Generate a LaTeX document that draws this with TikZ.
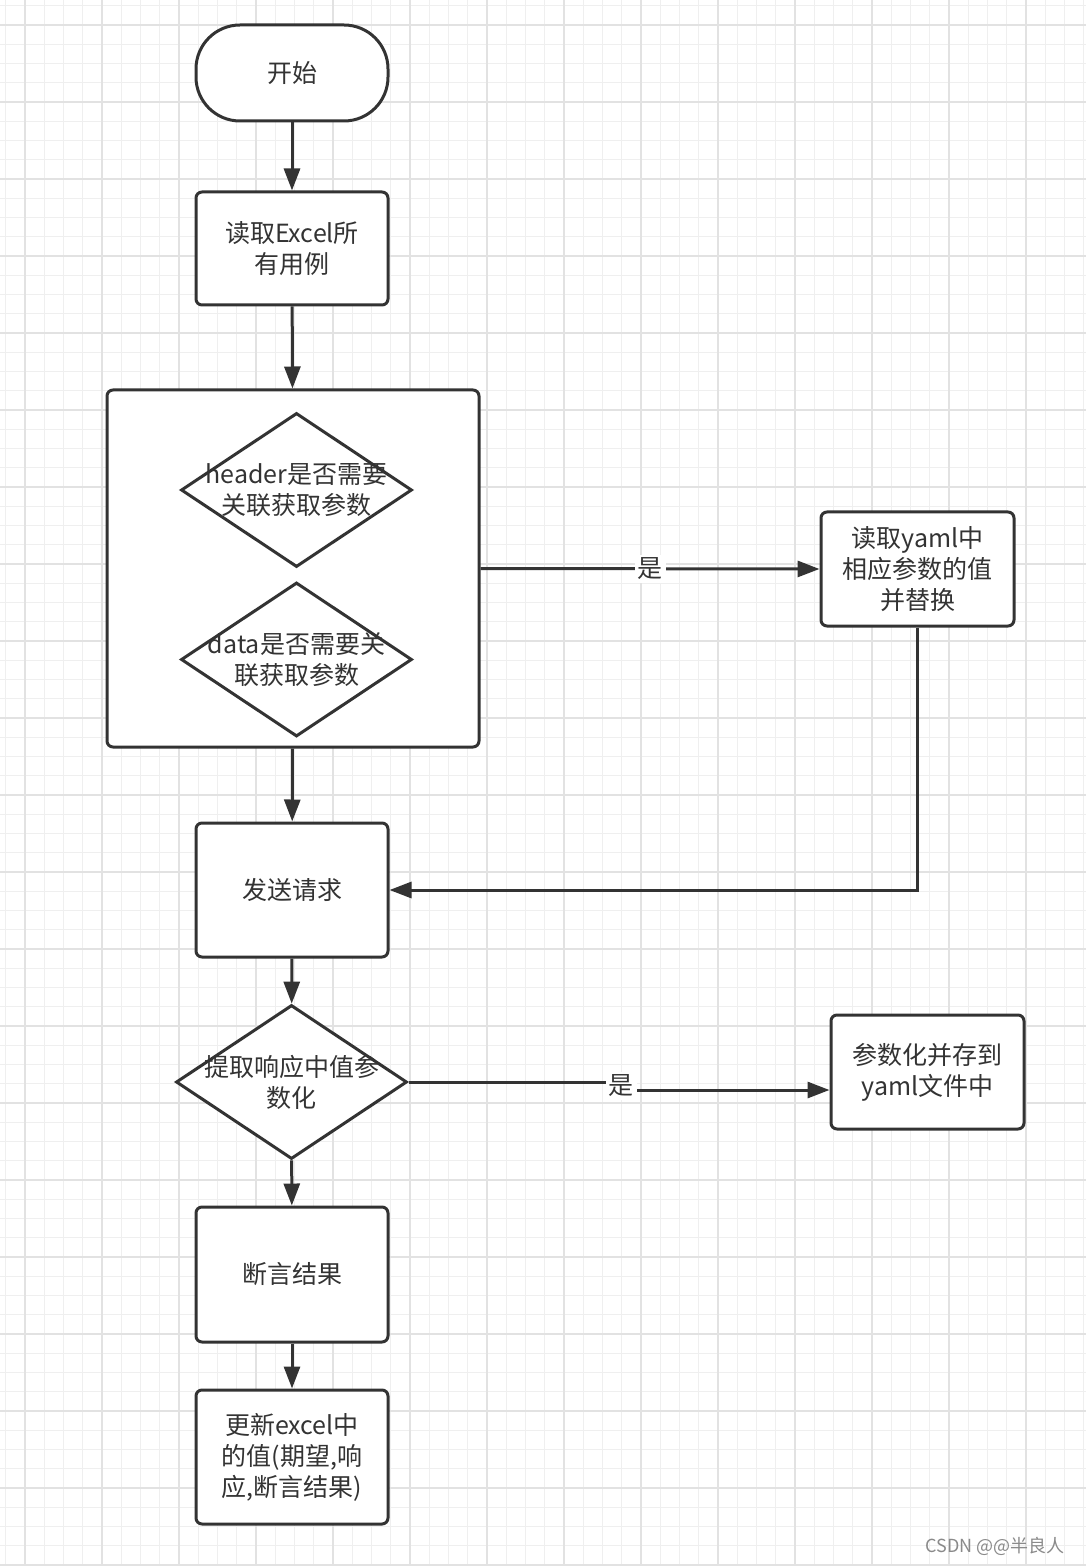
\documentclass[tikz,border=0pt]{standalone}
\usepackage{fontspec}
\setmainfont{Noto Sans CJK SC}
\usetikzlibrary{shapes.geometric,arrows.meta}
\definecolor{ink}{HTML}{333333}
\definecolor{gridminor}{HTML}{EFEFEF}
\definecolor{gridmajor}{HTML}{E2E2E2}
\definecolor{mark}{HTML}{8A8A8A}

\begin{document}
\begin{tikzpicture}[
  x=0.5pt, y=-0.5pt,
  every node/.style={text=ink,align=center,font=\fontsize{12.5}{15.5}\selectfont},
  flowshape/.style={draw=ink,line width=1.5pt,fill=white,inner sep=0pt},
  box/.style={flowshape,rectangle,rounded corners=3pt,minimum width=96pt},
  term/.style={flowshape,rectangle,rounded corners=22pt,minimum width=96pt,minimum height=48pt},
  decision/.style={flowshape,diamond,minimum width=115.5pt,minimum height=77pt},
  groupbox/.style={flowshape,rectangle,rounded corners=3pt,minimum width=186pt,minimum height=178.5pt},
  yeslabel/.style={fill=white,inner sep=1.5pt},
  arrow/.style={draw=ink,line width=1.5pt,-{Triangle[length=11pt,width=8pt]}}
]
\useasboundingbox (0,0) rectangle (1086,1566);
\fill[white] (0,0) rectangle (1086,1566);

% grid paper
\foreach \i in {0,...,56}
  \draw[gridminor,line width=0.5pt] ({5.75+19.25*\i},0) -- ++(0,1566);
\foreach \i in {0,...,81}
  \draw[gridminor,line width=0.5pt] (0,{5.75+19.25*\i}) -- ++(1086,0);
\foreach \i in {0,...,13}
  \draw[gridmajor,line width=0.6pt] ({25+77*\i},0) -- ++(0,1566);
\foreach \i in {0,...,20}
  \draw[gridmajor,line width=0.6pt] (0,{25+77*\i}) -- ++(1086,0);

\node[term] (start) at (292,73) {开始};
\node[box,minimum height=56.5pt] (readxls) at (292,248.5) {读取Excel所\\有用例};
\node[groupbox] (check) at (293,568.5) {};
\node[decision,label={[align=center]center:header是否需要\\关联获取参数}] (hdr) at (296.5,490) {};
\node[decision,label={[align=center]center:data是否需要关\\联获取参数}] (dat) at (296.5,659.5) {};
\node[box,minimum width=96.5pt,minimum height=57pt] (readyaml) at (917.5,569) {读取yaml中\\相应参数的值\\并替换};
\node[box,minimum height=67pt] (send) at (292,890) {发送请求};
\node[decision,label={[align=center]center:提取响应中值参\\数化}] (extract) at (291.5,1082) {};
\node[box,minimum width=96.5pt,minimum height=57pt] (save) at (927.5,1072) {参数化并存到\\yaml文件中};
\node[box,minimum height=67.5pt] (assert) at (292,1274.5) {断言结果};
\node[box,minimum height=67pt] (update) at (292,1457) {更新excel中\\的值(期望,响\\应,断言结果)};

\coordinate (yes2) at (621,1090);

\draw[arrow] (start) -- (readxls);
\draw[arrow] (readxls) -- (check);
\draw[arrow] (check.east) -- node[yeslabel] {是} (readyaml.west);
\draw[arrow] (readyaml.south) |- (send.east);
\draw[arrow] (check) -- (send);
\draw[arrow] (send) -- (extract);
\draw[arrow] (extract.east) -- (extract.east -| yes2) -- node[yeslabel] {是} (yes2) -- (save.west |- yes2);
\draw[arrow] (extract) -- (assert);
\draw[arrow] (assert) -- (update);

\node[text=mark,font=\fontsize{9}{10}\selectfont] (csdn) at (995,1546) {CSDN @@半良人};
\end{tikzpicture}
\end{document}
